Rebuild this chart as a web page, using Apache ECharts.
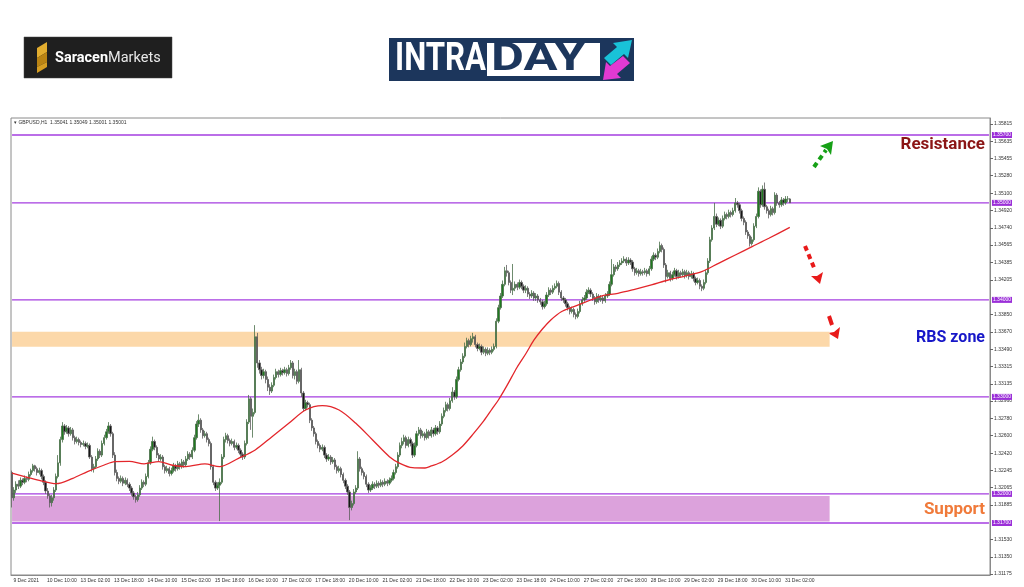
<!DOCTYPE html>
<html><head><meta charset="utf-8">
<script src="https://cdn.jsdelivr.net/npm/echarts@6/dist/echarts.min.js"></script>
<style>html,body{margin:0;padding:0;background:#fff}#c{width:1024px;height:587px}</style>
</head><body><div id="c"></div>
<script>
// ---- data ----
const tickLabels = ['9 Dec 2021','10 Dec 10:00','13 Dec 02:00','13 Dec 18:00','14 Dec 10:00','15 Dec 02:00','15 Dec 18:00','16 Dec 10:00','17 Dec 02:00','17 Dec 18:00','20 Dec 10:00','21 Dec 02:00','21 Dec 18:00','22 Dec 10:00','23 Dec 02:00','23 Dec 18:00','24 Dec 10:00','27 Dec 02:00','27 Dec 18:00','28 Dec 10:00','29 Dec 02:00','29 Dec 18:00','30 Dec 10:00','31 Dec 02:00'];
const yTicks = [1.35815,1.35635,1.35455,1.35280,1.35100,1.34920,1.34740,1.34565,1.34385,1.34205,1.33850,1.33670,1.33490,1.33315,1.33135,1.32960,1.32780,1.32600,1.32420,1.32245,1.32065,1.31885,1.31530,1.31350,1.31175];
const levels = [1.35700,1.35000,1.34000,1.33000,1.32000,1.31700];
const rbsZone = [1.33518,1.33672];
const supportZone = [1.31715,1.31978];
const zoneEndBar = 390;
const headerText = '\u25BE GBPUSD,H1  1.35041 1.35049 1.35001 1.35001';
// [open, close, low, high] per H1 bar
const ohlc = [
[1.3222,1.3196,1.3186,1.3224],[1.3196,1.3204,1.3193,1.3207],[1.3204,1.3210,1.3201,1.3213],[1.3210,1.3208,1.3205,1.3214],[1.3208,1.3214,1.3206,1.3217],[1.3214,1.3212,1.3209,1.3216],[1.3212,1.3216,1.3210,1.3219],[1.3216,1.3215,1.3212,1.3218],
[1.3215,1.3220,1.3213,1.3223],[1.3220,1.3224,1.3218,1.3226],[1.3224,1.3229,1.3222,1.3231],[1.3229,1.3226,1.3223,1.3230],[1.3226,1.3222,1.3219,1.3228],[1.3222,1.3224,1.3220,1.3227],[1.3224,1.3218,1.3215,1.3226],[1.3218,1.3212,1.3209,1.3220],
[1.3212,1.3203,1.3200,1.3214],[1.3203,1.3198,1.3195,1.3206],[1.3198,1.3191,1.3186,1.3200],[1.3191,1.3196,1.3187,1.3199],[1.3196,1.3204,1.3193,1.3207],[1.3204,1.3218,1.3202,1.3221],[1.3218,1.3232,1.3216,1.3240],[1.3232,1.3256,1.3229,1.3259],
[1.3256,1.3270,1.3253,1.3274],[1.3270,1.3264,1.3261,1.3272],[1.3264,1.3268,1.3262,1.3271],[1.3268,1.3262,1.3259,1.3270],[1.3262,1.3266,1.3260,1.3269],[1.3266,1.3258,1.3255,1.3268],[1.3258,1.3254,1.3251,1.3260],[1.3254,1.3256,1.3252,1.3259],
[1.3256,1.3253,1.3250,1.3258],[1.3253,1.3251,1.3248,1.3255],[1.3251,1.3252,1.3249,1.3255],[1.3252,1.3249,1.3246,1.3254],[1.3249,1.3250,1.3247,1.3253],[1.3250,1.3238,1.3236,1.3252],[1.3238,1.3226,1.3223,1.3240],[1.3226,1.3228,1.3222,1.3231],
[1.3228,1.3236,1.3226,1.3239],[1.3236,1.3244,1.3234,1.3247],[1.3244,1.3240,1.3237,1.3246],[1.3240,1.3252,1.3238,1.3255],[1.3252,1.3258,1.3250,1.3261],[1.3258,1.3264,1.3256,1.3267],[1.3264,1.3270,1.3262,1.3274],[1.3270,1.3262,1.3259,1.3272],
[1.3262,1.3240,1.3237,1.3264],[1.3240,1.3222,1.3219,1.3243],[1.3222,1.3216,1.3213,1.3225],[1.3216,1.3213,1.3210,1.3218],[1.3213,1.3216,1.3211,1.3219],[1.3216,1.3211,1.3208,1.3218],[1.3211,1.3214,1.3209,1.3217],[1.3214,1.3210,1.3207,1.3216],
[1.3210,1.3206,1.3203,1.3212],[1.3206,1.3201,1.3198,1.3208],[1.3201,1.3197,1.3194,1.3203],[1.3197,1.3194,1.3191,1.3199],[1.3194,1.3199,1.3192,1.3202],[1.3199,1.3206,1.3197,1.3209],[1.3206,1.3212,1.3204,1.3215],[1.3212,1.3210,1.3207,1.3214],
[1.3210,1.3218,1.3208,1.3221],[1.3218,1.3232,1.3216,1.3235],[1.3232,1.3246,1.3230,1.3249],[1.3246,1.3254,1.3244,1.3259],[1.3254,1.3248,1.3245,1.3256],[1.3248,1.3240,1.3237,1.3250],[1.3240,1.3236,1.3233,1.3242],[1.3236,1.3238,1.3234,1.3241],
[1.3238,1.3228,1.3225,1.3240],[1.3228,1.3224,1.3221,1.3230],[1.3224,1.3226,1.3222,1.3229],[1.3226,1.3221,1.3218,1.3228],[1.3221,1.3224,1.3219,1.3227],[1.3224,1.3229,1.3222,1.3232],[1.3229,1.3226,1.3223,1.3231],[1.3226,1.3231,1.3224,1.3234],
[1.3231,1.3228,1.3225,1.3233],[1.3228,1.3233,1.3226,1.3236],[1.3233,1.3230,1.3227,1.3235],[1.3230,1.3236,1.3228,1.3239],[1.3236,1.3241,1.3234,1.3244],[1.3241,1.3238,1.3235,1.3243],[1.3238,1.3245,1.3236,1.3248],[1.3245,1.3258,1.3243,1.3261],
[1.3258,1.3272,1.3256,1.3275],[1.3272,1.3276,1.3269,1.3282],[1.3276,1.3266,1.3263,1.3278],[1.3266,1.3260,1.3257,1.3268],[1.3260,1.3262,1.3258,1.3265],[1.3262,1.3256,1.3253,1.3264],[1.3256,1.3252,1.3249,1.3258],[1.3252,1.3228,1.3225,1.3254],
[1.3228,1.3212,1.3209,1.3230],[1.3212,1.3206,1.3203,1.3214],[1.3206,1.3209,1.3204,1.3212],[1.3209,1.3212,1.3172,1.3216],[1.3212,1.3238,1.3210,1.3241],[1.3238,1.3256,1.3236,1.3259],[1.3256,1.3260,1.3253,1.3263],[1.3260,1.3255,1.3252,1.3262],
[1.3255,1.3252,1.3249,1.3257],[1.3252,1.3254,1.3250,1.3257],[1.3254,1.3248,1.3245,1.3256],[1.3248,1.3250,1.3246,1.3253],[1.3250,1.3245,1.3242,1.3252],[1.3245,1.3241,1.3238,1.3247],[1.3241,1.3238,1.3235,1.3243],[1.3238,1.3252,1.3236,1.3255],
[1.3252,1.3274,1.3250,1.3277],[1.3274,1.3298,1.3272,1.3302],[1.3298,1.3280,1.3266,1.3300],[1.3280,1.3284,1.3258,1.3288],[1.3284,1.3362,1.3282,1.3374],[1.3362,1.3335,1.3330,1.3366],[1.3335,1.3328,1.3324,1.3338],[1.3328,1.3322,1.3318,1.3331],
[1.3322,1.3326,1.3319,1.3329],[1.3326,1.3318,1.3314,1.3328],[1.3318,1.3310,1.3306,1.3321],[1.3310,1.3306,1.3302,1.3313],[1.3306,1.3312,1.3304,1.3315],[1.3312,1.3320,1.3310,1.3323],[1.3320,1.3326,1.3318,1.3329],[1.3326,1.3323,1.3320,1.3328],
[1.3323,1.3327,1.3321,1.3330],[1.3327,1.3325,1.3322,1.3329],[1.3325,1.3328,1.3323,1.3331],[1.3328,1.3324,1.3321,1.3330],[1.3324,1.3330,1.3322,1.3333],[1.3330,1.3335,1.3328,1.3338],[1.3335,1.3322,1.3319,1.3337],[1.3322,1.3326,1.3318,1.3329],
[1.3326,1.3316,1.3313,1.3328],[1.3316,1.3328,1.3314,1.3338],[1.3328,1.3304,1.3300,1.3330],[1.3304,1.3288,1.3285,1.3306],[1.3288,1.3294,1.3286,1.3297],[1.3294,1.3292,1.3289,1.3296],[1.3292,1.3276,1.3273,1.3294],[1.3276,1.3268,1.3265,1.3278],
[1.3268,1.3262,1.3259,1.3270],[1.3262,1.3254,1.3251,1.3264],[1.3254,1.3250,1.3247,1.3256],[1.3250,1.3246,1.3243,1.3252],[1.3246,1.3248,1.3244,1.3251],[1.3248,1.3240,1.3237,1.3250],[1.3240,1.3236,1.3233,1.3242],[1.3236,1.3238,1.3234,1.3241],
[1.3238,1.3233,1.3230,1.3240],[1.3233,1.3235,1.3231,1.3238],[1.3235,1.3228,1.3225,1.3237],[1.3228,1.3224,1.3221,1.3230],[1.3224,1.3226,1.3222,1.3229],[1.3226,1.3220,1.3217,1.3228],[1.3220,1.3214,1.3211,1.3222],[1.3214,1.3208,1.3205,1.3216],
[1.3208,1.3202,1.3199,1.3210],[1.3202,1.3186,1.3173,1.3204],[1.3186,1.3190,1.3183,1.3193],[1.3190,1.3202,1.3188,1.3205],[1.3202,1.3206,1.3200,1.3209],[1.3206,1.3236,1.3204,1.3244],[1.3236,1.3226,1.3223,1.3238],[1.3226,1.3222,1.3219,1.3228],
[1.3222,1.3218,1.3215,1.3224],[1.3218,1.3210,1.3207,1.3220],[1.3210,1.3204,1.3201,1.3212],[1.3204,1.3206,1.3202,1.3209],[1.3206,1.3210,1.3204,1.3213],[1.3210,1.3208,1.3205,1.3212],[1.3208,1.3211,1.3206,1.3214],[1.3211,1.3209,1.3206,1.3213],
[1.3209,1.3212,1.3207,1.3215],[1.3212,1.3210,1.3207,1.3214],[1.3210,1.3213,1.3208,1.3216],[1.3213,1.3211,1.3208,1.3215],[1.3211,1.3214,1.3209,1.3217],[1.3214,1.3216,1.3212,1.3219],[1.3216,1.3222,1.3214,1.3225],[1.3222,1.3228,1.3220,1.3231],
[1.3228,1.3240,1.3226,1.3243],[1.3240,1.3250,1.3238,1.3253],[1.3250,1.3254,1.3247,1.3258],[1.3254,1.3258,1.3251,1.3261],[1.3258,1.3250,1.3247,1.3260],[1.3250,1.3256,1.3248,1.3259],[1.3256,1.3252,1.3249,1.3258],[1.3252,1.3240,1.3237,1.3254],
[1.3240,1.3250,1.3238,1.3253],[1.3250,1.3262,1.3248,1.3265],[1.3262,1.3266,1.3260,1.3269],[1.3266,1.3260,1.3257,1.3268],[1.3260,1.3262,1.3258,1.3265],[1.3262,1.3258,1.3255,1.3264],[1.3258,1.3264,1.3256,1.3267],[1.3264,1.3260,1.3257,1.3266],
[1.3260,1.3266,1.3258,1.3269],[1.3266,1.3262,1.3259,1.3268],[1.3262,1.3268,1.3260,1.3271],[1.3268,1.3264,1.3261,1.3270],[1.3264,1.3272,1.3262,1.3275],[1.3272,1.3280,1.3270,1.3283],[1.3280,1.3286,1.3278,1.3289],[1.3286,1.3292,1.3284,1.3295],
[1.3292,1.3288,1.3285,1.3294],[1.3288,1.3296,1.3286,1.3299],[1.3296,1.3305,1.3294,1.3310],[1.3305,1.3300,1.3297,1.3307],[1.3300,1.3318,1.3298,1.3321],[1.3318,1.3328,1.3316,1.3331],[1.3328,1.3336,1.3326,1.3339],[1.3336,1.3342,1.3334,1.3345],
[1.3342,1.3352,1.3340,1.3356],[1.3352,1.3358,1.3350,1.3361],[1.3358,1.3354,1.3351,1.3360],[1.3354,1.3360,1.3352,1.3363],[1.3360,1.3362,1.3356,1.3366],[1.3362,1.3354,1.3351,1.3364],[1.3354,1.3350,1.3347,1.3356],[1.3350,1.3352,1.3348,1.3355],
[1.3352,1.3346,1.3343,1.3354],[1.3346,1.3349,1.3344,1.3352],[1.3349,1.3345,1.3342,1.3351],[1.3345,1.3348,1.3343,1.3351],[1.3348,1.3346,1.3343,1.3350],[1.3346,1.3349,1.3344,1.3352],[1.3349,1.3352,1.3347,1.3355],[1.3352,1.3378,1.3350,1.3381],
[1.3378,1.3392,1.3376,1.3395],[1.3392,1.3404,1.3390,1.3407],[1.3404,1.3416,1.3402,1.3420],[1.3416,1.3430,1.3414,1.3434],[1.3430,1.3428,1.3424,1.3436],[1.3428,1.3418,1.3415,1.3430],[1.3418,1.3410,1.3407,1.3420],[1.3410,1.3412,1.3405,1.3437],
[1.3412,1.3416,1.3409,1.3419],[1.3416,1.3413,1.3410,1.3418],[1.3413,1.3418,1.3411,1.3421],[1.3418,1.3414,1.3411,1.3420],[1.3414,1.3410,1.3407,1.3416],[1.3410,1.3412,1.3407,1.3415],[1.3412,1.3406,1.3403,1.3414],[1.3406,1.3404,1.3401,1.3408],
[1.3404,1.3407,1.3402,1.3410],[1.3407,1.3402,1.3399,1.3409],[1.3402,1.3404,1.3399,1.3407],[1.3404,1.3400,1.3397,1.3406],[1.3400,1.3398,1.3395,1.3402],[1.3398,1.3393,1.3390,1.3400],[1.3393,1.3396,1.3391,1.3399],[1.3396,1.3405,1.3394,1.3408],
[1.3405,1.3410,1.3403,1.3413],[1.3410,1.3408,1.3405,1.3412],[1.3408,1.3412,1.3406,1.3415],[1.3412,1.3414,1.3410,1.3417],[1.3414,1.3417,1.3412,1.3420],[1.3417,1.3408,1.3405,1.3419],[1.3408,1.3402,1.3399,1.3410],[1.3402,1.3400,1.3397,1.3404],
[1.3400,1.3396,1.3393,1.3402],[1.3396,1.3392,1.3389,1.3398],[1.3392,1.3388,1.3385,1.3394],[1.3388,1.3390,1.3386,1.3393],[1.3390,1.3385,1.3382,1.3392],[1.3385,1.3383,1.3380,1.3387],[1.3383,1.3388,1.3381,1.3391],[1.3388,1.3396,1.3386,1.3399],
[1.3396,1.3400,1.3394,1.3403],[1.3400,1.3402,1.3398,1.3405],[1.3402,1.3408,1.3400,1.3411],[1.3408,1.3410,1.3406,1.3413],[1.3410,1.3406,1.3403,1.3412],[1.3406,1.3402,1.3399,1.3408],[1.3402,1.3398,1.3395,1.3404],[1.3398,1.3404,1.3396,1.3407],
[1.3404,1.3400,1.3397,1.3406],[1.3400,1.3402,1.3398,1.3405],[1.3402,1.3399,1.3396,1.3404],[1.3399,1.3404,1.3397,1.3407],[1.3404,1.3406,1.3402,1.3409],[1.3406,1.3416,1.3404,1.3419],[1.3416,1.3426,1.3414,1.3442],[1.3426,1.3434,1.3424,1.3437],
[1.3434,1.3432,1.3429,1.3436],[1.3432,1.3436,1.3430,1.3439],[1.3436,1.3438,1.3434,1.3441],[1.3438,1.3440,1.3436,1.3443],[1.3440,1.3442,1.3438,1.3445],[1.3442,1.3438,1.3435,1.3444],[1.3438,1.3441,1.3436,1.3444],[1.3441,1.3439,1.3436,1.3443],
[1.3439,1.3432,1.3429,1.3441],[1.3432,1.3428,1.3425,1.3434],[1.3428,1.3430,1.3426,1.3433],[1.3430,1.3427,1.3424,1.3432],[1.3427,1.3429,1.3425,1.3432],[1.3429,1.3428,1.3425,1.3431],[1.3428,1.3430,1.3426,1.3433],[1.3430,1.3427,1.3424,1.3432],
[1.3427,1.3432,1.3425,1.3435],[1.3432,1.3442,1.3430,1.3445],[1.3442,1.3446,1.3440,1.3449],[1.3446,1.3444,1.3441,1.3448],[1.3444,1.3450,1.3442,1.3453],[1.3450,1.3456,1.3448,1.3460],[1.3456,1.3452,1.3449,1.3458],[1.3452,1.3436,1.3433,1.3454],
[1.3436,1.3424,1.3418,1.3438],[1.3424,1.3428,1.3422,1.3431],[1.3428,1.3422,1.3419,1.3430],[1.3422,1.3426,1.3420,1.3429],[1.3426,1.3430,1.3424,1.3433],[1.3430,1.3424,1.3421,1.3432],[1.3424,1.3428,1.3422,1.3431],[1.3428,1.3426,1.3423,1.3430],
[1.3426,1.3429,1.3424,1.3432],[1.3429,1.3425,1.3422,1.3431],[1.3425,1.3428,1.3423,1.3431],[1.3428,1.3424,1.3421,1.3430],[1.3424,1.3427,1.3422,1.3430],[1.3427,1.3422,1.3419,1.3429],[1.3422,1.3418,1.3415,1.3424],[1.3418,1.3420,1.3416,1.3423],
[1.3420,1.3414,1.3411,1.3422],[1.3414,1.3412,1.3409,1.3416],[1.3412,1.3418,1.3410,1.3421],[1.3418,1.3428,1.3416,1.3431],[1.3428,1.3440,1.3426,1.3443],[1.3440,1.3462,1.3438,1.3465],[1.3462,1.3474,1.3460,1.3477],[1.3474,1.3486,1.3472,1.3500],
[1.3486,1.3478,1.3475,1.3489],[1.3478,1.3482,1.3476,1.3485],[1.3482,1.3476,1.3473,1.3484],[1.3476,1.3484,1.3474,1.3487],[1.3484,1.3488,1.3482,1.3491],[1.3488,1.3486,1.3483,1.3490],[1.3486,1.3490,1.3484,1.3493],[1.3490,1.3488,1.3485,1.3492],
[1.3488,1.3492,1.3486,1.3495],[1.3492,1.3500,1.3490,1.3505],[1.3500,1.3498,1.3495,1.3502],[1.3498,1.3492,1.3489,1.3500],[1.3492,1.3484,1.3481,1.3494],[1.3484,1.3480,1.3477,1.3486],[1.3480,1.3470,1.3467,1.3482],[1.3470,1.3466,1.3463,1.3472],
[1.3466,1.3458,1.3455,1.3468],[1.3458,1.3462,1.3456,1.3465],[1.3462,1.3476,1.3460,1.3479],[1.3476,1.3486,1.3474,1.3489],[1.3486,1.3512,1.3484,1.3516],[1.3512,1.3498,1.3495,1.3514],[1.3498,1.3514,1.3496,1.3518],[1.3514,1.3496,1.3493,1.3521],
[1.3496,1.3492,1.3489,1.3498],[1.3492,1.3488,1.3484,1.3494],[1.3488,1.3494,1.3486,1.3497],[1.3494,1.3490,1.3487,1.3496],[1.3490,1.3508,1.3488,1.3511],[1.3508,1.3500,1.3497,1.3510],[1.3500,1.3498,1.3495,1.3502],[1.3498,1.3503,1.3496,1.3506],
[1.3503,1.3500,1.3497,1.3505],[1.3500,1.3504,1.3498,1.3507],[1.3504,1.35041,1.3501,1.3507],[1.35041,1.35001,1.35001,1.35049]
];
// moving average read at knots: [bar index, price]
const maPoints = [[0,1.32213],[6,1.32178],[13,1.32140],[21,1.32105],[29,1.32161],[36,1.32230],[44,1.32298],[49,1.32333],[56,1.32335],[63,1.32310],[70,1.32333],[76,1.32298],[83,1.32281],[92,1.32310],[99,1.32281],[108,1.32367],[116,1.32453],[124,1.32590],[132,1.32728],[140,1.32865],[148,1.32910],[156,1.32865],[164,1.32728],[172,1.32556],[180,1.32384],[185,1.32315],[191,1.32270],[197,1.32267],[200,1.32288],[205,1.32329],[210,1.32401],[215,1.32494],[220,1.32618],[225,1.32752],[229,1.32876],[232,1.32968],[236,1.33113],[241,1.33308],[245,1.33442],[249,1.33587],[253,1.33700],[257,1.33793],[262,1.33878],[268,1.33930],[276,1.33999],[281,1.34040],[289,1.34068],[297,1.34109],[305,1.34154],[313,1.34205],[321,1.34246],[329,1.34291],[337,1.34377],[345,1.34463],[353,1.34549],[361,1.34635],[371,1.34748]];

const slotCount = 467;
const categories = Array.from({length: slotCount}, (_, i) => String(i));
const everyLabel = (idx) => idx % 16 === 0 && idx / 16 < tickLabels.length;
const tiny = 'Liberation Sans';
const levelColor = '#a53ee0';

const levelSeries = levels.map(v => ({
  type: 'line', data: [[0, v], [slotCount - 1, v]], showSymbol: false, silent: true, z: 2,
  lineStyle: {color: levelColor, width: 1.4},
  endLabel: {show: true, formatter: () => v.toFixed(5), backgroundColor: '#9b2fd8', color: '#fff',
    fontSize: 5, padding: [1, 1, 0, 1], distance: 3, fontFamily: tiny}
}));

const chart = echarts.init(document.getElementById('c'), null, {renderer: 'canvas'});
chart.setOption({
  animation: false,
  backgroundColor: '#ffffff',
  grid: {left: 11, right: 34, top: 118, bottom: 12, show: true, borderColor: '#8a8a8a', borderWidth: 1},
  xAxis: {
    type: 'category', data: categories, boundaryGap: true,
    axisLine: {lineStyle: {color: '#8a8a8a'}},
    axisTick: {interval: everyLabel, alignWithLabel: true, length: 4, lineStyle: {color: '#666'}},
    axisLabel: {interval: everyLabel, formatter: (v, i) => ' ' + (tickLabels[i / 16] || ''), align: 'left',
      fontSize: 5, color: '#333', margin: 3, fontFamily: tiny},
    splitLine: {show: false}
  },
  yAxis: {
    type: 'value', position: 'right', min: 1.31164, max: 1.35875,
    axisLine: {show: true, lineStyle: {color: '#8a8a8a'}},
    axisTick: {show: true, length: 3, customValues: yTicks, lineStyle: {color: '#666'}},
    axisLabel: {customValues: yTicks, formatter: v => v.toFixed(5), fontSize: 5, color: '#333', margin: 4, fontFamily: tiny},
    splitLine: {show: false}
  },
  series: [
    {
      type: 'line', data: [], z: 1, silent: true,
      markArea: {silent: true, data: [
        [{xAxis: '0', yAxis: rbsZone[0], itemStyle: {color: '#fcd8a9'}}, {xAxis: String(zoneEndBar), yAxis: rbsZone[1]}],
        [{xAxis: '0', yAxis: supportZone[0], itemStyle: {color: '#dca2dc'}}, {xAxis: String(zoneEndBar), yAxis: supportZone[1]}]
      ]}
    },
    ...levelSeries,
    {
      type: 'candlestick', data: ohlc, z: 3, barWidth: 1.8,
      itemStyle: {color: '#1f7a1f', color0: '#161616', borderColor: '#4a6f4a', borderColor0: '#5e5e5e', borderWidth: 0.8}
    },
    {
      type: 'line', data: maPoints, smooth: 0.3, showSymbol: false, z: 4, silent: true,
      lineStyle: {color: '#e3262b', width: 1.3}
    }
  ],
  graphic: [
    {type: 'text', left: 14, top: 120, style: {text: headerText, font: '5px "Liberation Sans"', fill: '#333'}},
    {type: 'text', style: {x: 985, y: 145, text: 'Resistance', align: 'right', verticalAlign: 'middle', font: 'bold 17px Roboto', fill: '#8b1515'}},
    {type: 'text', style: {x: 985, y: 338, text: 'RBS zone', align: 'right', verticalAlign: 'middle', font: 'bold 16px Roboto', fill: '#1717c8'}},
    {type: 'text', style: {x: 985, y: 510, text: 'Support', align: 'right', verticalAlign: 'middle', font: 'bold 17px Roboto', fill: '#f07a3a'}},
    // green arrow up
    {type: 'line', shape: {x1: 814, y1: 167, x2: 826, y2: 150}, style: {stroke: '#16a016', lineWidth: 4, lineDash: [5, 4]}},
    {type: 'polygon', shape: {points: [[833, 141], [831, 155], [827, 149], [820, 146]]}, style: {fill: '#16a016'}},
    // red arrow down
    {type: 'line', shape: {x1: 805, y1: 246, x2: 815, y2: 270}, style: {stroke: '#e81a1a', lineWidth: 4, lineDash: [5, 4]}},
    {type: 'polygon', shape: {points: [[820, 284], [811, 276], [817, 276], [823, 272]]}, style: {fill: '#e81a1a'}},
    // small red arrow
    {type: 'line', shape: {x1: 829, y1: 316, x2: 832, y2: 325}, style: {stroke: '#e81a1a', lineWidth: 4}},
    {type: 'polygon', shape: {points: [[838, 339], [828, 333], [834, 332], [840, 327]]}, style: {fill: '#e81a1a'}},
    // Saracen Markets logo
    {type: 'rect', shape: {x: 24, y: 37, width: 148, height: 41}, style: {fill: '#1f1f1f', stroke: '#444', lineWidth: 0.5}},
    {type: 'polygon', shape: {points: [[37, 48], [47, 42], [47, 52], [37, 58]]}, style: {fill: '#e2ad2f'}},
    {type: 'polygon', shape: {points: [[37, 58], [47, 52], [47, 62], [37, 67]]}, style: {fill: '#b98313'}},
    {type: 'polygon', shape: {points: [[37, 67], [47, 62], [47, 67], [37, 73]]}, style: {fill: '#d59d22'}},
    {type: 'text', style: {x: 55, y: 58, text: '{a|Saracen}{b|Markets}', verticalAlign: 'middle',
      rich: {a: {font: 'bold 14.5px Roboto', fill: '#ffffff'}, b: {font: '14.5px Roboto', fill: '#e8e8e8'}}}},
    // INTRADAY logo
    {type: 'rect', shape: {x: 389, y: 38, width: 245, height: 43}, style: {fill: '#1c365c'}},
    {type: 'text', x: 395, y: 60, scaleX: 0.8, style: {x: 0, y: 0, text: 'INTRA', verticalAlign: 'middle', font: 'bold 39px Roboto', fill: '#ffffff'}},
    {type: 'rect', shape: {x: 487, y: 43, width: 113, height: 33}, style: {fill: '#ffffff'}},
    {type: 'text', x: 491, y: 60, scaleX: 1.3, style: {x: 0, y: 0, text: 'DAY', verticalAlign: 'middle', font: 'bold 39px Roboto', fill: '#1c365c'}},
    {type: 'polygon', shape: {points: [[604, 58], [617, 47], [613, 43], [632, 40], [628, 58], [624, 54], [611, 65]]}, style: {fill: '#19c3d8'}},
    {type: 'polygon', shape: {points: [[630, 63], [617, 74], [621, 78], [603, 80], [606, 62], [610, 66], [623, 56]]}, style: {fill: '#e23ad2'}}
  ]
});
</script>
</body></html>
